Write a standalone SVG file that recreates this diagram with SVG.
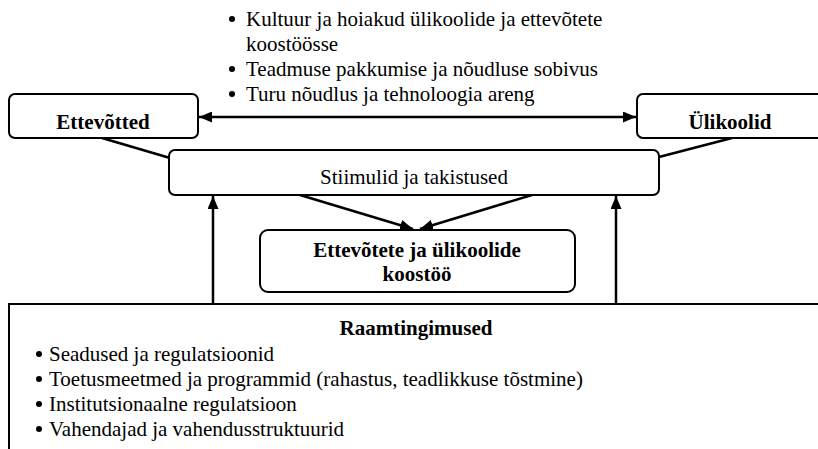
<svg xmlns="http://www.w3.org/2000/svg" width="818" height="449" viewBox="0 0 818 449" font-family="Liberation Serif, Times New Roman, serif" font-size="21">
<style>
.box{fill:#fff;stroke:#000;stroke-width:2}
.t{fill:#000}
.b{font-weight:bold}
.c{text-anchor:middle}
.ln{stroke:#000;stroke-width:2.5;fill:none}
</style>
<defs>
<marker id="ah" viewBox="0 0 13 11" refX="13" refY="5.5" markerWidth="13" markerHeight="11" markerUnits="userSpaceOnUse" orient="auto-start-reverse">
<path d="M0,0 L13,5.5 L0,11 Z" fill="#000"/>
</marker>
</defs>
<rect width="818" height="449" fill="#fff"/>
<g id="top-bullets">
<circle cx="232" cy="19" r="3" fill="#000"/>
<text class="t" x="246" y="26" font-family="Liberation Serif">Kultuur ja hoiakud ülikoolide ja ettevõtete</text>
<text class="t" x="246" y="51" font-family="Liberation Serif">koostöösse</text>
<circle cx="232" cy="69" r="3" fill="#000"/>
<text class="t" x="246" y="76" font-family="Liberation Serif">Teadmuse pakkumise ja nõudluse sobivus</text>
<circle cx="232" cy="94" r="3" fill="#000"/>
<text class="t" x="246" y="101" font-family="Liberation Serif">Turu nõudlus ja tehnoloogia areng</text>
</g>
<g id="connectors">
<line class="ln" x1="199" y1="117" x2="636" y2="117" marker-start="url(#ah)" marker-end="url(#ah)"/>
<line class="ln" x1="102" y1="138" x2="170" y2="158"/>
<line class="ln" x1="732" y1="138" x2="659" y2="157"/>
<line class="ln" x1="300" y1="195" x2="413" y2="229" marker-end="url(#ah)"/>
<line class="ln" x1="532" y1="195" x2="420" y2="229" marker-end="url(#ah)"/>
<line class="ln" x1="213" y1="304" x2="213" y2="196" marker-end="url(#ah)"/>
<line class="ln" x1="616" y1="304" x2="616" y2="196" marker-end="url(#ah)"/>
</g>
<g id="ettevotted">
<rect class="box" x="9" y="94" width="189" height="44" rx="6"/>
<text class="t b c" x="103" y="129" font-family="Liberation Serif">Ettevõtted</text>
</g>
<g id="ulikoolid">
<rect class="box" x="637" y="94" width="200" height="44" rx="6"/>
<text class="t b c" x="730" y="129" font-family="Liberation Serif">Ülikoolid</text>
</g>
<g id="stiimulid">
<rect class="box" x="169" y="150" width="490" height="45" rx="6"/>
<text class="t c" x="414" y="184" font-family="Liberation Serif">Stiimulid ja takistused</text>
</g>
<g id="koostoo">
<rect class="box" x="260" y="230" width="315" height="62" rx="8"/>
<text class="t b c" x="417" y="257" font-family="Liberation Serif">Ettevõtete ja ülikoolide</text>
<text class="t b c" x="417" y="281" font-family="Liberation Serif">koostöö</text>
</g>
<g id="raamtingimused">
<rect class="box" x="9" y="304" width="830" height="160"/>
<text class="t b c" x="416" y="335" font-family="Liberation Serif">Raamtingimused</text>
<circle cx="39" cy="354" r="3" fill="#000"/>
<text class="t" x="49" y="361" font-family="Liberation Serif">Seadused ja regulatsioonid</text>
<circle cx="39" cy="379" r="3" fill="#000"/>
<text class="t" x="49" y="386" font-family="Liberation Serif">Toetusmeetmed ja programmid (rahastus, teadlikkuse tõstmine)</text>
<circle cx="39" cy="404" r="3" fill="#000"/>
<text class="t" x="49" y="411" font-family="Liberation Serif">Institutsionaalne regulatsioon</text>
<circle cx="39" cy="429" r="3" fill="#000"/>
<text class="t" x="49" y="436" font-family="Liberation Serif">Vahendajad ja vahendusstruktuurid</text>
</g>
</svg>
